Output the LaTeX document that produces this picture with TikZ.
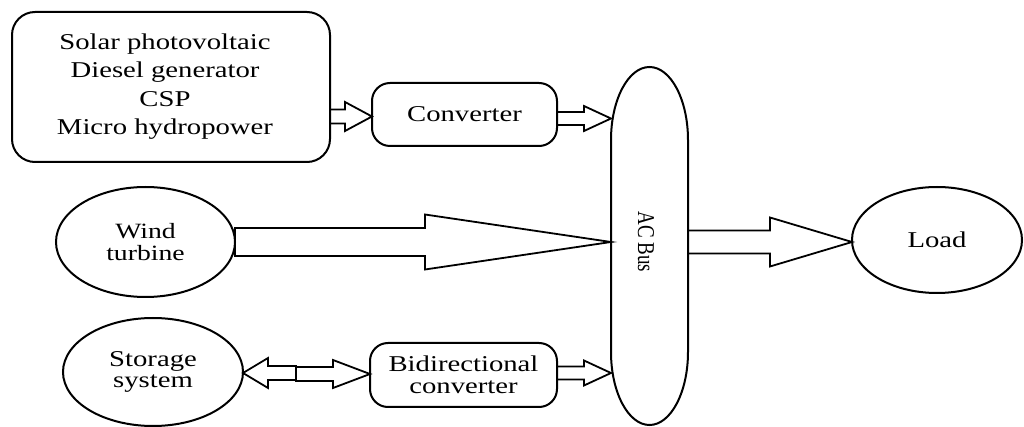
\documentclass[tikz,border=0pt]{standalone}
\usepackage{fontspec}
\setmainfont{Liberation Serif}
\newfontfamily\widefont{Liberation Serif}[FakeStretch=1.27]
\usetikzlibrary{calc,shapes.geometric}

% text styles: slightly widened serif face
\newcommand\labeltext{\widefont\fontsize{11.3}{10.8}\selectfont}
\newcommand\windtext{\widefont\fontsize{10.9}{10.6}\selectfont}
\newcommand\sourcetext{\widefont\fontsize{11.3}{14.2}\selectfont}
\newcommand\bustext{\fontsize{9.5}{11}\selectfont}

\tikzset{
  box/.style={draw, line width=1pt, rounded corners=9pt, inner sep=0pt,
              outer sep=0pt, align=center, font=\labeltext},
  oval/.style={draw, ellipse, line width=1pt, inner sep=0pt, outer sep=0pt,
               align=center, font=\labeltext},
  blockline/.style={line width=0.9pt, line join=miter},
}

% hollow block arrow: #1 tail point (x used), #2 tip point,
% #3 shaft half-width, #4 head half-width, #5 head length (negative = points left)
\newcommand\blockarrow[5]{%
  \draw[blockline] let \p1=(#1), \p2=(#2) in
    ({\x1},{\y2+#3}) -- ({\x2-(#5)},{\y2+#3}) -- ({\x2-(#5)},{\y2+#4}) -- (\x2,\y2)
    -- ({\x2-(#5)},{\y2-#4}) -- ({\x2-(#5)},{\y2-#3}) -- ({\x1},{\y2-#3}) -- cycle;}

\begin{document}
\begin{tikzpicture}[x=0.5pt,y=-0.5pt]
  \fill[white] (0,0) rectangle (1024,427);
  \useasboundingbox (0,0) rectangle (1024,427);

  % generation sources
  \node[box, rounded corners=11.5pt, minimum width=159pt, minimum height=75pt] (src) at (171,87) {};
  \node[align=center, font=\sourcetext, inner sep=0pt] (srctext) at (165,86.5)
    {Solar photovoltaic\\Diesel generator\\CSP\\Micro hydropower};

  \node[box, minimum width=92.5pt, minimum height=31.5pt] (conv) at (464.5,114.5) {Converter};

  \node[oval, font=\windtext, minimum width=89.5pt, minimum height=55pt] (wind) at (145.5,242) {Wind\\turbine};

  \node[oval, minimum width=90pt, minimum height=54pt] (store) at (153,372) {Storage\\system};

  \node[box, minimum width=93.5pt, minimum height=32pt] (bidir) at (463.5,375) {Bidirectional\\converter};

  \node[oval, minimum width=85pt, minimum height=53pt] (load) at (937,240) {Load};

  % AC bus: tall outline with elliptical caps
  \node[inner sep=0pt, outer sep=0pt, minimum width=38.5pt, minimum height=179pt] (bus) at (649.5,246) {};
  \draw[line width=1pt]
    ($(bus.north west)+(0,73)$) -- ($(bus.south west)+(0,-73)$)
    arc[start angle=180, end angle=360, x radius=19.25pt, y radius=36.5pt]
    -- ($(bus.north east)+(0,73)$)
    arc[start angle=0, end angle=180, x radius=19.25pt, y radius=36.5pt] -- cycle;
  \node[rotate=-90, font=\bustext, inner sep=0pt] (buslabel) at (646,242) {\scalebox{1}[1.27]{AC Bus}};

  % power flow arrows
  \blockarrow{src.east}{$(conv.west)+(0,2)$}{3.5pt}{7.25pt}{13.5pt}
  \blockarrow{conv.east}{$(bus.west |- conv.east)+(0,4)$}{3.25pt}{6.25pt}{13.5pt}
  \blockarrow{wind.east}{bus.west |- wind.east}{7pt}{13.75pt}{93pt}
  \blockarrow{bus.east |- load.west}{$(load.west)+(0,2)$}{5.75pt}{12.25pt}{41pt}

  \coordinate (mid) at (296,373);
  \blockarrow{mid}{$(store.east)+(0,1)$}{3.5pt}{7.5pt}{-12.5pt}
  \blockarrow{mid}{$(bidir.west)+(0,-1)$}{3.5pt}{7pt}{18.5pt}
  \blockarrow{bidir.east}{$(bus.west |- bidir.east)+(0,-2)$}{3.25pt}{6.25pt}{13.5pt}
\end{tikzpicture}
\end{document}
